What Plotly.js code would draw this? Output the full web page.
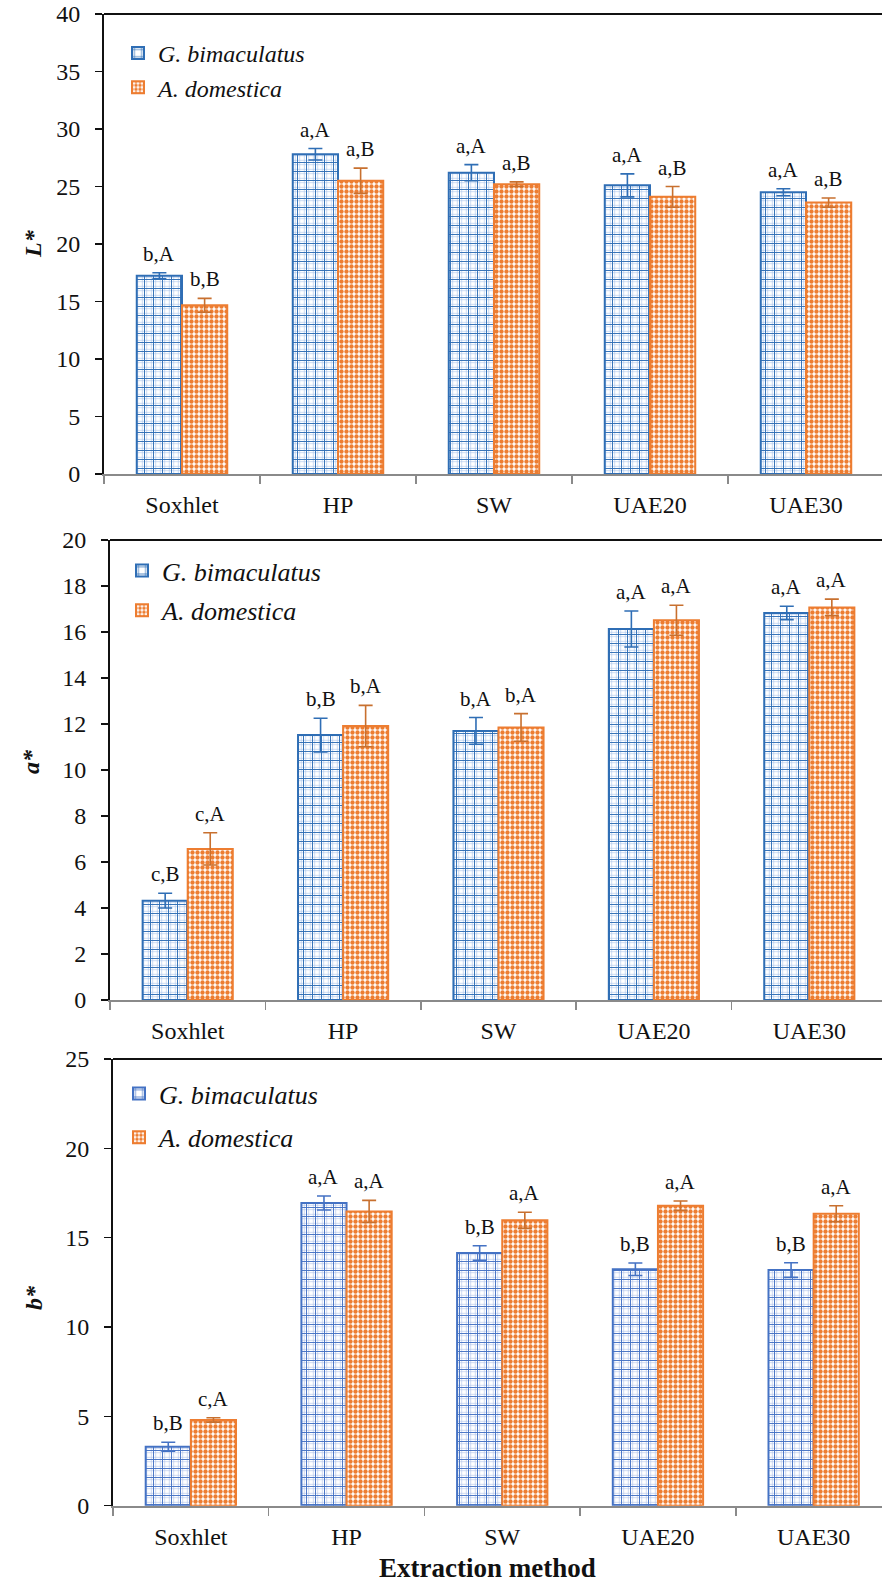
<!DOCTYPE html>
<html>
<head>
<meta charset="utf-8">
<script src="https://cdn.plot.ly/plotly-3.0.1.min.js"></script>
<style>
html,body{margin:0;padding:0;overflow:hidden;background:#fff;}
#chart{width:900px;height:1591px;}
</style>
</head>
<body>
<div id="chart"></div>
<script>
// ---- data ----
const categories = ['Soxhlet', 'HP', 'SW', 'UAE20', 'UAE30'];
const seriesNames = ['G. bimaculatus', 'A. domestica'];

const L_gb = [17.24, 27.8, 26.2, 25.1, 24.5];
const L_gb_err = [0.26, 0.5, 0.7, 1.0, 0.3];
const L_ad = [14.67, 25.5, 25.2, 24.1, 23.6];
const L_ad_err = [0.6, 1.1, 0.2, 0.9, 0.4];
const L_gb_lab = ['b,A', 'a,A', 'a,A', 'a,A', 'a,A'];
const L_ad_lab = ['b,B', 'a,B', 'a,B', 'a,B', 'a,B'];

const a_gb = [4.32, 11.52, 11.7, 16.13, 16.83];
const a_gb_err = [0.32, 0.73, 0.58, 0.78, 0.29];
const a_ad = [6.57, 11.91, 11.85, 16.51, 17.07];
const a_ad_err = [0.7, 0.9, 0.6, 0.65, 0.36];
const a_gb_lab = ['c,B', 'b,B', 'b,A', 'a,A', 'a,A'];
const a_ad_lab = ['c,A', 'b,A', 'b,A', 'a,A', 'a,A'];

const b_gb = [3.30, 16.94, 14.14, 13.23, 13.19];
const b_gb_err = [0.25, 0.39, 0.41, 0.35, 0.41];
const b_ad = [4.80, 16.47, 15.97, 16.79, 16.34];
const b_ad_err = [0.12, 0.62, 0.45, 0.26, 0.45];
const b_gb_lab = ['b,B', 'a,A', 'b,B', 'b,B', 'b,B'];
const b_ad_lab = ['c,A', 'a,A', 'a,A', 'a,A', 'a,A'];

const yTitles = ['L*', 'a*', 'b*'];
const yRanges = [[0, 40], [0, 20], [0, 25]];
const yDticks = [5, 2, 5];
const xTitle = 'Extraction method';

// ---- styling ----
const FONT = 'Liberation Serif, Times New Roman, serif';
const W = 900, H = 1591;
const BW = 0.29; // bar width in category units
const blues = ['#2f6eb5', '#2f6eb5', '#4472c4'];
const lightBlues = ['#a8c3ea', '#a8c3ea', '#aec2e8'];
const orange = '#ed7d31';
const orangeErr = '#c8702f';

const panels = [
  {gb: L_gb, gbe: L_gb_err, ad: L_ad, ade: L_ad_err, gl: L_gb_lab, al: L_ad_lab,
   px: [104, 884], py: [14, 474], leg: {x: 118, y: 31, gap: 0, fs: 24}, ytx: 33, yty: 244},
  {gb: a_gb, gbe: a_gb_err, ad: a_ad, ade: a_ad_err, gl: a_gb_lab, al: a_ad_lab,
   px: [110, 887], py: [540, 1000], leg: {x: 122, y: 547, gap: 3, fs: 26}, ytx: 31, yty: 762},
  {gb: b_gb, gbe: b_gb_err, ad: b_ad, ade: b_ad_err, gl: b_gb_lab, al: b_ad_lab,
   px: [113, 891.5], py: [1059, 1505.7], leg: {x: 119, y: 1070, gap: 7, fs: 26}, ytx: 34, yty: 1298}
];

const traces = [];
const annotations = [];
const shapes = [];
const layout = {
  width: W, height: H,
  margin: {l: 0, r: 0, t: 0, b: 0},
  paper_bgcolor: '#fff', plot_bgcolor: '#fff',
  barmode: 'overlay',
  font: {family: FONT, size: 24, color: '#111'},
  showlegend: true,
  annotations: annotations,
  shapes: shapes
};

panels.forEach((p, i) => {
  const n = i === 0 ? '' : String(i + 1);
  const xa = 'x' + n, ya = 'y' + n;
  const legName = 'legend' + n;
  // light-blue fine grid (under layer)
  traces.push({
    type: 'bar', x: categories, y: p.gb, xaxis: xa, yaxis: ya,
    width: BW, offset: -BW, showlegend: false, hoverinfo: 'skip',
    marker: {color: '#ffffff', line: {width: 0},
      pattern: {shape: '+', fgcolor: lightBlues[i], bgcolor: '#ffffff', size: 4.5, solidity: 0.25}}
  });
  // dark-blue coarse grid + outline
  traces.push({
    type: 'bar', name: '<i>' + seriesNames[0] + '</i>', x: categories, y: p.gb, xaxis: xa, yaxis: ya,
    width: BW, offset: -BW, legend: legName, legendgroup: 'g' + i + 'a',
    marker: {color: 'rgba(0,0,0,0)', line: {color: blues[i], width: 2},
      pattern: {shape: '+', fgcolor: blues[i], bgcolor: 'rgba(0,0,0,0)', size: 9, solidity: 0.2}},
    error_y: {type: 'data', array: p.gbe, visible: true, color: blues[i], thickness: 1.6, width: 7}
  });
  traces.push({
    type: 'bar', name: '<i>' + seriesNames[1] + '</i>', x: categories, y: p.ad, xaxis: xa, yaxis: ya,
    width: BW, offset: 0, legend: legName, legendgroup: 'g' + i + 'b',
    marker: {color: '#ffffff', line: {color: orange, width: 2},
      pattern: {shape: '.', fgcolor: orange, bgcolor: '#ffffff', size: 5, solidity: 0.6}},
    error_y: {type: 'data', array: p.ade, visible: true, color: orangeErr, thickness: 1.6, width: 7}
  });

  layout['xaxis' + n] = {
    domain: [p.px[0] / W, p.px[1] / W], anchor: ya,
    type: 'category', range: [-0.5, 4.5], tickson: 'boundaries',
    ticks: 'outside', ticklen: 8, tickwidth: 1.5, tickcolor: '#8a8a8a',
    showline: true, linecolor: '#8a8a8a', linewidth: 2,
    showgrid: false, zeroline: false, ticklabelstandoff: 8,
    tickfont: {family: FONT, size: 24, color: '#111'}
  };
  layout['yaxis' + n] = {
    domain: [1 - p.py[1] / H, 1 - p.py[0] / H], anchor: xa,
    range: yRanges[i], dtick: yDticks[i], tick0: 0,
    ticks: 'outside', ticklen: 7, tickwidth: 1.5, tickcolor: '#111',
    showline: true, linecolor: '#111', linewidth: 2,
    showgrid: false, zeroline: false, ticklabelstandoff: 10,
    tickfont: {family: FONT, size: 24, color: '#111'}
  };
  layout[legName] = {
    x: p.leg.x / W, y: 1 - p.leg.y / H, xanchor: 'left', yanchor: 'top',
    bgcolor: 'rgba(0,0,0,0)', borderwidth: 0, tracegroupgap: p.leg.gap,
    font: {family: FONT, size: p.leg.fs, color: '#111'}
  };
  // top frame line
  shapes.push({type: 'line', xref: xa + ' domain', yref: ya + ' domain',
    x0: 0, x1: 1.01, y0: 1, y1: 1, line: {color: '#111', width: 2}});
  // y title
  annotations.push({xref: 'paper', yref: 'paper', x: p.ytx / W, y: 1 - p.yty / H,
    text: '<b><i>' + yTitles[i] + '</i></b>', textangle: -90, showarrow: false,
    font: {family: FONT, size: 24, color: '#111'}, xanchor: 'center', yanchor: 'middle'});
  // significance labels
  categories.forEach((c, k) => {
    annotations.push({xref: xa, yref: ya, x: k - BW / 2, y: p.gb[k] + p.gbe[k],
      text: p.gl[k], showarrow: false, yanchor: 'bottom', yshift: 5,
      font: {family: FONT, size: 21, color: '#111'}});
    annotations.push({xref: xa, yref: ya, x: k + BW / 2, y: p.ad[k] + p.ade[k],
      text: p.al[k], showarrow: false, yanchor: 'bottom', yshift: 5,
      font: {family: FONT, size: 21, color: '#111'}});
  });
});

annotations.push({xref: 'paper', yref: 'paper', x: 487 / W, y: 1 - 1568 / H,
  text: '<b>' + xTitle + '</b>', showarrow: false, xanchor: 'center', yanchor: 'middle',
  font: {family: FONT, size: 27, color: '#111'}});

Plotly.newPlot('chart', traces, layout, {displayModeBar: false, staticPlot: true});
</script>
</body>
</html>
